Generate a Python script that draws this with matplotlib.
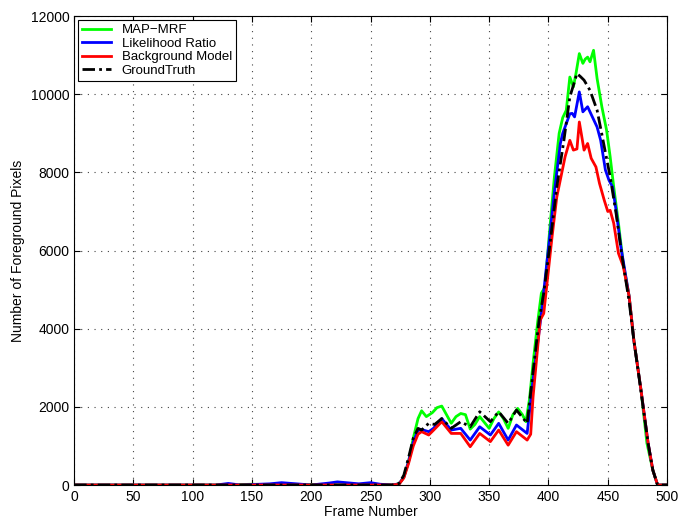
import numpy as np
import matplotlib
matplotlib.use('Agg')
import matplotlib.pyplot as plt

plt.rcParams['font.family'] = ['Liberation Sans', 'DejaVu Sans']

# MAP-MRF (green)
g_frames = [0, 130, 150, 175, 200, 225, 250, 268, 274, 278, 282, 286, 290, 293, 297, 302, 306, 310, 314, 318, 322, 326,
            330, 334, 338, 342, 346, 350, 354, 358, 362, 366, 370, 374, 378, 381, 384, 387, 391, 394, 397, 401, 405,
            409, 412, 415, 418, 421, 423, 426, 429, 431, 433, 435, 438, 441, 445, 449, 452, 455, 459, 463, 468, 472,
            478, 483, 488, 492, 500]
g_vals = [0, 0, 20, 0, 15, 0, 10, 0, 30, 200, 600, 1200, 1700, 1900, 1750, 1850, 1980, 2020, 1800, 1580, 1750, 1830,
          1800, 1430, 1550, 1750, 1600, 1450, 1700, 1870, 1700, 1450, 1800, 1960, 1800, 1620, 2200, 3120, 4200, 4910,
          5060, 6520, 7890, 9000, 9400, 9590, 10440, 10190, 10500, 11040, 10790, 10900, 10950, 10830, 11125, 10400,
          9680, 9080, 8400, 7630, 6700, 5680, 4830, 3700, 2430, 1070, 380, 0, 0]

# Likelihood Ratio (blue)
l_frames = [0, 120, 130, 140, 165, 175, 200, 215, 222, 240, 250, 258, 268, 274, 278, 282, 286, 290, 293, 299, 303, 310,
            318, 326, 334, 342, 351, 358, 366, 373, 382, 387, 394, 401, 405, 410, 412, 416, 418, 420, 422, 426, 429,
            433, 437, 441, 444, 448, 451, 454, 457, 461, 468, 472, 478, 484, 488, 492, 500]
l_vals = [0, 0, 40, 0, 30, 60, 0, 50, 80, 30, 60, 20, 0, 30, 200, 600, 1100, 1400, 1420, 1365, 1450, 1700,
          1407, 1450, 1150, 1490, 1280, 1578, 1150, 1535, 1320, 2690, 4390, 6350, 7500, 8740, 9000, 9330, 9500,
          9510, 9420, 10060, 9550, 9680, 9420, 9160, 8820, 8060, 7800, 7630, 7030, 6100, 4830, 3700, 2430, 1070,
          380, 0, 0]

# Background Model (red)
b_frames = [0, 268, 274, 278, 282, 286, 290, 293, 299, 303, 310, 318, 326, 334, 342, 351, 358, 366, 373, 382, 385, 387,
            393, 396, 403, 407, 414, 418, 421, 424, 426, 430, 433, 436, 440, 443, 447, 450, 452, 455, 459, 463, 468,
            472, 478, 484, 488, 492, 500]
b_vals = [0, 0, 20, 180, 550, 1000, 1300, 1365, 1280, 1400, 1620, 1320, 1320, 980, 1320, 1110, 1407, 1020, 1365,
          1150, 1300, 2260, 4220, 4390, 6350, 7370, 8400, 8820, 8570, 8600, 9290, 8570, 8740, 8360, 8140, 7720,
          7290, 7000, 7030, 6700, 5930, 5600, 4830, 3700, 2430, 1070, 380, 0, 0]

# GroundTruth (black dash-dot)
t_frames = [0, 268, 274, 278, 282, 286, 290, 293, 299, 304, 310, 318, 326, 334, 342, 351, 358, 366, 373, 382, 387,
            392, 396, 401, 407, 413, 418, 424, 427, 430, 435, 441, 446, 452, 457, 462, 468, 472, 478, 484, 488,
            492, 500]
t_vals = [0, 0, 40, 250, 700, 1200, 1450, 1407, 1578, 1550, 1700, 1450, 1620, 1490, 1875, 1620, 1875, 1578, 1918,
          1578, 2900, 4200, 4910, 6100, 7630, 8820, 9930, 10530, 10450, 10360, 10100, 9590, 8820, 7890, 6950,
          5850, 4700, 3700, 2400, 1070, 380, 0, 0]

fig = plt.figure(figsize=(6.8, 5.19), dpi=100)
ax = fig.add_axes([0.109, 0.0655, 0.872, 0.9035])

ax.plot(g_frames, g_vals, color='#00ff00', lw=2, label='MAP\u2212MRF')
ax.plot(l_frames, l_vals, color='#0000ff', lw=2, label='Likelihood Ratio')
ax.plot(b_frames, b_vals, color='#ff0000', lw=2, label='Background Model')
ax.plot(t_frames, t_vals, color='black', lw=2, dashes=(4.5, 1.5, 1, 1.5), label='GroundTruth')

ax.set_xlim(0, 500)
ax.set_ylim(0, 12000)
ax.set_xticks(np.arange(0, 501, 50))
ax.set_yticks(np.arange(0, 12001, 2000))
ax.grid(True, ls=(0, (1, 5)), color='#444444', lw=0.8)
ax.set_axisbelow(True)
ax.tick_params(direction='in', top=True, right=True, labelsize=10, length=4)
for s in ax.spines.values():
    s.set_linewidth(0.8)

ax.set_xlabel('Frame Number', fontsize=10, labelpad=1)
ax.set_ylabel('Number of Foreground Pixels', fontsize=10)

leg = ax.legend(loc='upper left', fontsize=9.5, fancybox=False, handlelength=2.2,
                borderpad=0.3, labelspacing=0.1, borderaxespad=0.3)
leg.get_frame().set_edgecolor('black')
leg.get_frame().set_linewidth(0.8)
leg.get_frame().set_alpha(1)

plt.savefig('out.png', dpi=100)
